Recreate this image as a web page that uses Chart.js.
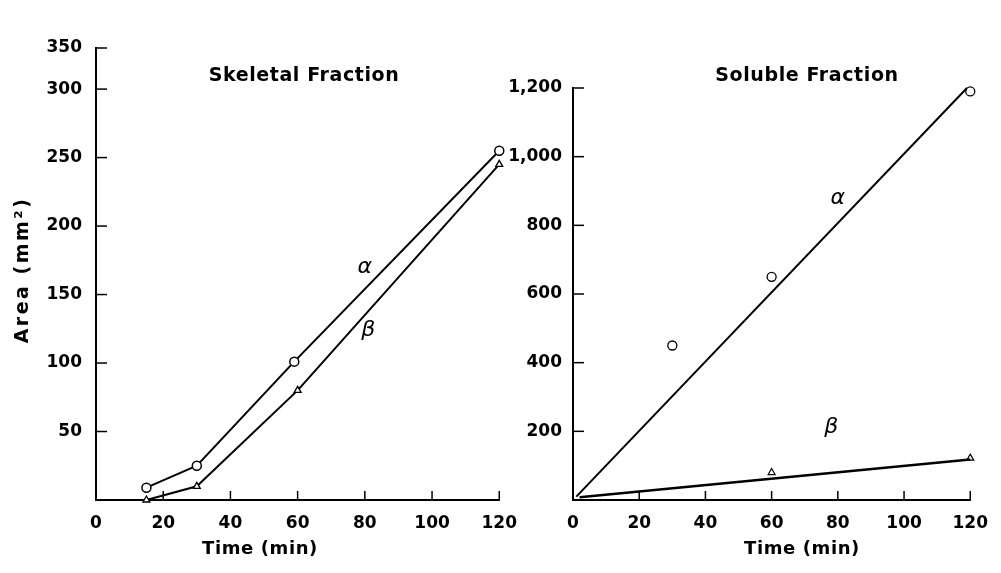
<!DOCTYPE html>
<html><head><meta charset="utf-8">
<script src="https://cdn.jsdelivr.net/npm/chart.js@4"></script>
<style>
html,body{margin:0;padding:0;background:#fff;width:1001px;height:573px;overflow:hidden}
#c1{position:absolute;left:0;top:0}
#c2{position:absolute;left:500px;top:0}
</style>
</head><body>
<canvas id="c1" width="530" height="573"></canvas>
<canvas id="c2" width="501" height="573"></canvas>
<script>
// ---- data ----
const timeSkeletalAlpha = [15, 30, 59, 120];
const areaSkeletalAlpha = [9, 25, 101, 255];
const timeSkeletalBeta  = [15, 30, 60, 120];
const areaSkeletalBeta  = [0, 10, 80, 245];

const timeSolubleAlpha = [30, 60, 120];
const areaSolubleAlpha = [450, 650, 1190];
const timeSolubleBeta  = [60, 120];
const areaSolubleBeta  = [80, 122];

const fitSolubleAlphaX = [1, 119];
const fitSolubleAlphaY = [10, 1200];
const fitSolubleBetaX  = [2, 120];
const fitSolubleBetaY  = [8, 118];

const xTickValues = [0, 20, 40, 60, 80, 100, 120];
const yTicksSkeletal = [50, 100, 150, 200, 250, 300];
const yTopLabelSkeletal = '350';
const yTicksSoluble = [200, 400, 600, 800, 1000, 1200];

const titleSkeletal = 'Skeletal Fraction';
const titleSoluble = 'Soluble Fraction';
const xTitle = 'Time (min)';
const yTitle = 'Area (mm\u00B2)';

// ---- helpers ----
const pts = (xs, ys) => xs.map((x, i) => ({x: x, y: ys[i]}));
const tickFont = {family: 'DejaVu Sans', weight: 'bold', size: 17};
const BLACK = '#000';

const overlayPlugin = {
  id: 'overlay',
  afterDraw(chart, args, opts) {
    const ctx = chart.ctx;
    const xs = chart.scales.x, ys = chart.scales.y;
    const area = chart.chartArea;
    ctx.save();
    // inward tick marks
    ctx.strokeStyle = BLACK;
    ctx.lineWidth = 1.5;
    xs.ticks.forEach(t => {
      if (t.value === xs.min) return;
      const px = xs.getPixelForValue(t.value);
      ctx.beginPath(); ctx.moveTo(px, area.bottom); ctx.lineTo(px, area.bottom - 9); ctx.stroke();
    });
    ys.ticks.forEach(t => {
      const py = ys.getPixelForValue(t.value);
      ctx.beginPath(); ctx.moveTo(area.left, py); ctx.lineTo(area.left + 11, py); ctx.stroke();
    });
    // greek labels (data coordinates)
    ctx.fillStyle = BLACK;
    ctx.font = 'oblique 22px "DejaVu Sans"';
    ctx.textAlign = 'center';
    ctx.textBaseline = 'middle';
    (opts.greek || []).forEach(g => {
      ctx.fillText(g.text, xs.getPixelForValue(g.x), ys.getPixelForValue(g.y));
    });
    // texts (canvas coordinates)
    (opts.texts || []).forEach(t => {
      ctx.save();
      ctx.font = t.font;
      if ('letterSpacing' in ctx) ctx.letterSpacing = t.spacing || '0px';
      ctx.translate(t.x, t.y);
      if (t.rot) ctx.rotate(t.rot);
      ctx.textAlign = 'center';
      ctx.textBaseline = 'middle';
      ctx.fillText(t.text, 0, 0);
      ctx.restore();
    });
    ctx.restore();
  }
};

function xScale(h) {
  return {
    type: 'linear', min: 0, max: 120,
    afterBuildTicks: s => { s.ticks = xTickValues.map(v => ({value: v})); },
    afterFit: s => { s.height = h; },
    ticks: {font: tickFont, color: BLACK, padding: 13, maxRotation: 0, autoSkip: false},
    grid: {display: false, drawTicks: false},
    border: {display: true, color: BLACK, width: 2}
  };
}

// ---- Skeletal chart ----
const skelMax = 330; // top of the (truncated) axis, labelled 350
new Chart(document.getElementById('c1'), {
  type: 'scatter',
  data: {
    datasets: [
      {data: pts(timeSkeletalAlpha, areaSkeletalAlpha), showLine: true, borderColor: BLACK, borderWidth: 2,
       pointStyle: 'circle', pointRadius: 4.5, pointBorderWidth: 1.5, pointBackgroundColor: '#fff', pointBorderColor: BLACK, clip: false},
      {data: pts(timeSkeletalBeta, areaSkeletalBeta), showLine: true, borderColor: BLACK, borderWidth: 2,
       pointStyle: 'triangle', pointRadius: 4, pointBorderWidth: 1.3, pointBackgroundColor: '#fff', pointBorderColor: BLACK, clip: false}
    ]
  },
  options: {
    responsive: false, animation: false, events: [],
    layout: {padding: {left: 0, right: 24, top: 48, bottom: 0}},
    plugins: {
      legend: {display: false}, tooltip: {enabled: false},
      overlay: {
        greek: [{text: '\u03B1', x: 80, y: 170}, {text: '\u03B2', x: 81, y: 124}],
        texts: [
          {text: titleSkeletal, x: 304, y: 76, font: 'bold 19px "DejaVu Sans"', spacing: '0.6px'},
          {text: xTitle, x: 260, y: 549, font: 'bold 18px "DejaVu Sans"', spacing: '0.6px'},
          {text: yTitle, x: 23, y: 270, rot: -Math.PI / 2, font: 'bold 19px "DejaVu Sans"', spacing: '2.5px'}
        ]
      }
    },
    scales: {
      x: xScale(73),
      y: {
        type: 'linear', min: 0, max: skelMax,
        afterBuildTicks: s => { s.ticks = yTicksSkeletal.concat([skelMax]).map(v => ({value: v})); },
        afterFit: s => { s.width = 96; },
        ticks: {font: tickFont, color: BLACK, padding: 14,
                callback: (v) => v === skelMax ? yTopLabelSkeletal : String(v)},
        grid: {display: false, drawTicks: false},
        border: {display: true, color: BLACK, width: 2}
      }
    }
  },
  plugins: [overlayPlugin]
});

// ---- Soluble chart ----
new Chart(document.getElementById('c2'), {
  type: 'scatter',
  data: {
    datasets: [
      {data: pts(fitSolubleAlphaX, fitSolubleAlphaY), showLine: true, borderColor: BLACK, borderWidth: 2, pointRadius: 0, clip: false},
      {data: pts(fitSolubleBetaX, fitSolubleBetaY), showLine: true, borderColor: BLACK, borderWidth: 2.6, pointRadius: 0, clip: false},
      {data: pts(timeSolubleAlpha, areaSolubleAlpha), showLine: false,
       pointStyle: 'circle', pointRadius: 4.5, pointBorderWidth: 1.3, pointBackgroundColor: '#fff', pointBorderColor: BLACK, clip: false},
      {data: pts(timeSolubleBeta, areaSolubleBeta), showLine: false,
       pointStyle: 'triangle', pointRadius: 4, pointBorderWidth: 1.2, pointBackgroundColor: '#fff', pointBorderColor: BLACK, clip: false}
    ]
  },
  options: {
    responsive: false, animation: false, events: [],
    layout: {padding: {left: 0, right: 19, top: 88, bottom: 0}},
    plugins: {
      legend: {display: false}, tooltip: {enabled: false},
      overlay: {
        greek: [{text: '\u03B1', x: 80, y: 880}, {text: '\u03B2', x: 78, y: 212}],
        texts: [
          {text: titleSoluble, x: 307, y: 76, font: 'bold 19px "DejaVu Sans"', spacing: '0.6px'},
          {text: xTitle, x: 302, y: 549, font: 'bold 18px "DejaVu Sans"', spacing: '0.6px'}
        ]
      }
    },
    scales: {
      x: xScale(73),
      y: {
        type: 'linear', min: 0, max: 1200,
        afterBuildTicks: s => { s.ticks = yTicksSoluble.map(v => ({value: v})); },
        afterFit: s => { s.width = 73; },
        ticks: {font: tickFont, color: BLACK, padding: 11,
                callback: (v) => Number(v).toLocaleString('en-US')},
        grid: {display: false, drawTicks: false},
        border: {display: true, color: BLACK, width: 2}
      }
    }
  },
  plugins: [overlayPlugin]
});
</script>
</body></html>
